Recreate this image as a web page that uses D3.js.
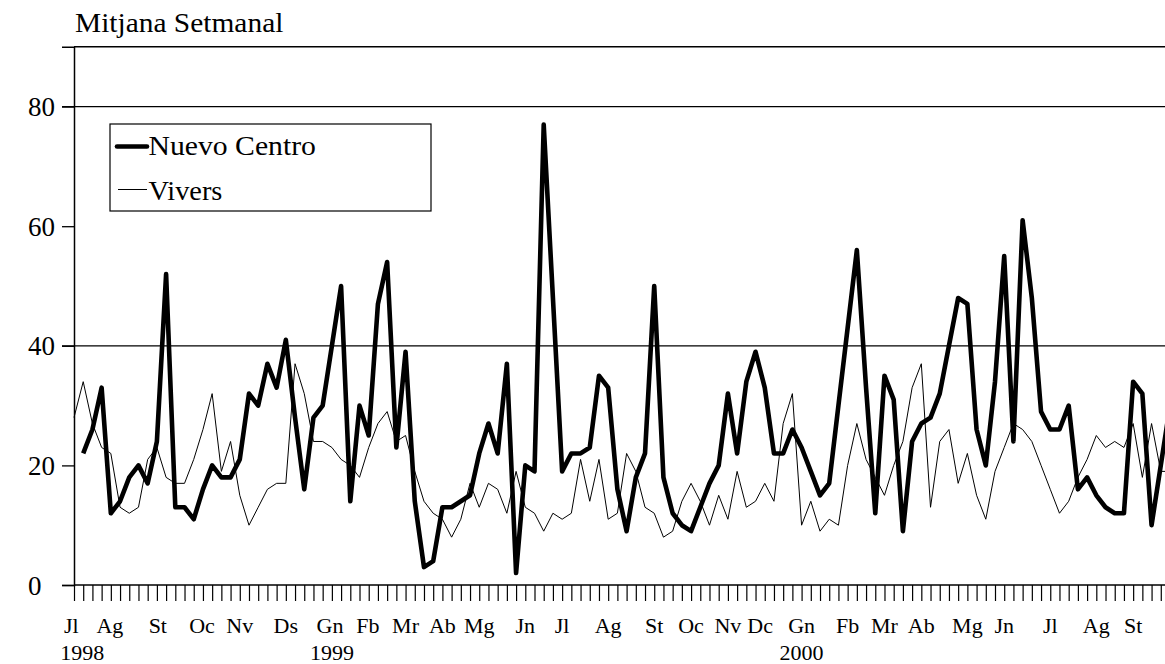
<!DOCTYPE html>
<html>
<head>
<meta charset="utf-8">
<script src="https://cdn.jsdelivr.net/npm/d3@7"></script>
<style>
  html, body { margin: 0; padding: 0; background: #fff; }
  svg text { font-family: "Liberation Serif", "Times New Roman", serif !important; fill: #000; }
</style>
</head>
<body>
<svg id="chart" width="1165" height="664" font-family="Liberation Serif"></svg>
<script>
// ---- data (weekly means, Jul 1998 – Sep 2000) ----
const nuevoCentro = [null,22,26,33,12,14,18,20,17,24,52,13,13,11,16,20,18,18,21,32,
  30,37,33,41,28,16,28,30,40,50,14,30,25,47,54,23,39,14,3,4,
  13,13,14,15,22,27,22,37,2,20,19,77,48,19,22,22,23,35,33,16,
  9,18,22,50,18,12,10,9,13,17,20,32,22,34,39,33,22,22,26,23,
  19,15,17,30,43,56,33,12,35,31,9,24,27,28,32,40,48,47,26,20,
  34,55,24,61,48,29,26,26,30,16,18,15,13,12,12,34,32,10,20,30];
const vivers = [28,34,27,23,22,13,12,13,21,23,18,17,17,21,26,32,19,24,15,10,
  13,16,17,17,37,32,24,24,23,21,20,18,23,27,29,24,25,19,14,12,
  11,8,11,17,13,17,16,12,19,13,12,9,12,11,12,21,14,21,11,12,
  22,19,13,12,8,9,14,17,14,10,15,11,19,13,14,17,14,27,32,10,
  14,9,11,10,20,27,21,18,15,20,24,33,37,13,24,26,17,22,15,11,
  19,23,27,26,24,20,16,12,14,18,21,25,23,24,23,27,18,27,19,19];
const monthLabels = ["Jl","Ag","St","Oc","Nv","Ds","Gn","Fb","Mr","Ab","Mg","Jn","Jl","Ag",
  "St","Oc","Nv","Dc","Gn","Fb","Mr","Ab","Mg","Jn","Jl","Ag","St"];
const monthPos = [-0.3,3.9,9.1,13.9,18,23,27.8,31.9,36,40,44,49,53,58,
  63,67,71,74.5,79,84,88,92,97,101,106,111,115];
const yearLabels = ["1998","1999","2000"];
const yearPos = [0.9,28,79];
const yTicks = [0,20,40,60,80];
const gridValues = [40,80];
const seriesNames = ["Nuevo Centro","Vivers"];
const title = "Mitjana Setmanal";

// ---- layout ----
const FONT = "Liberation Serif";
const svg = d3.select("#chart");
const left = 74, step = 9.21, nWeeks = 119;
const x = d3.scaleLinear().domain([0, nWeeks]).range([left, left + nWeeks * step]);
const y = d3.scaleLinear().domain([0, 90]).range([585, 46.8]);

// stretched text helper (reference glyphs are slightly wider than Liberation Serif)
function wideText(g, tx, ty, size, str, sx) {
  return g.append("text")
    .attr("transform", `translate(${tx},${ty}) scale(${sx},1)`)
    .attr("font-family", FONT).attr("font-size", size).text(str);
}

// title
wideText(svg, 75, 32, 27, title, 1.09);

// gridlines (extend left as ticks)
svg.selectAll("line.grid").data(gridValues).enter().append("line")
  .attr("x1", 62).attr("x2", 1165)
  .attr("y1", d => y(d)).attr("y2", d => y(d))
  .attr("stroke", "#000").attr("stroke-width", 1.3);

// frame top
svg.append("line").attr("x1", left).attr("x2", 1165).attr("y1", y(90)).attr("y2", y(90))
  .attr("stroke", "#000").attr("stroke-width", 1.5);

// y axis
const yAxis = d3.axisLeft(y).tickValues(yTicks).tickSize(12).tickFormat(d3.format("d"));
const gy = svg.append("g").attr("transform", `translate(${left},0)`).call(yAxis)
  .attr("font-family", FONT);
gy.select(".domain").attr("stroke", "#000").attr("stroke-width", 1.5);
gy.selectAll(".tick line").attr("stroke", "#000").attr("stroke-width", 1.3);
gy.selectAll(".tick text").attr("x", 28 - left).attr("text-anchor", "start")
  .attr("font-family", FONT).attr("font-size", 27).attr("dy", "0.34em").attr("fill", "#000");

// x axis (weekly ticks)
const weeks = d3.range(0, nWeeks + 1);
const xAxis = d3.axisBottom(x).tickValues(weeks).tickSize(16).tickFormat("");
const gx = svg.append("g").attr("transform", `translate(0,${y(0)})`).call(xAxis);
gx.select(".domain").attr("stroke", "#000").attr("stroke-width", 1.5).attr("d", `M${left},0H1165`);
gx.selectAll(".tick line").attr("stroke", "#000").attr("stroke-width", 1.2);

// month labels
svg.selectAll("text.month").data(monthLabels).enter().append("text")
  .attr("class", "month").attr("font-family", FONT)
  .attr("x", (d, i) => x(monthPos[i])).attr("y", 633)
  .attr("text-anchor", "middle").attr("font-size", 22).text(d => d);
svg.selectAll("text.year").data(yearLabels).enter().append("text")
  .attr("class", "year").attr("font-family", FONT)
  .attr("x", (d, i) => x(yearPos[i])).attr("y", 660)
  .attr("text-anchor", "middle").attr("font-size", 22).text(d => d);

// series
const line = d3.line().defined(d => d != null).x((d, i) => x(i)).y(d => y(d));
const plot = svg.append("g");
plot.append("path").datum(vivers).attr("d", line)
  .attr("fill", "none").attr("stroke", "#000").attr("stroke-width", 1);
plot.append("path").datum(nuevoCentro).attr("d", line)
  .attr("fill", "none").attr("stroke", "#000").attr("stroke-width", 4.6)
  .attr("stroke-linejoin", "round");

// legend
const lg = svg.append("g");
lg.append("rect").attr("x", 110).attr("y", 124).attr("width", 321).attr("height", 87)
  .attr("fill", "#fff").attr("stroke", "#000").attr("stroke-width", 1.2);
lg.append("line").attr("x1", 117).attr("x2", 147).attr("y1", 146.5).attr("y2", 146.5)
  .attr("stroke", "#000").attr("stroke-width", 4.6).attr("stroke-linecap", "round");
lg.append("line").attr("x1", 118).attr("x2", 147).attr("y1", 189.5).attr("y2", 189.5)
  .attr("stroke", "#000").attr("stroke-width", 1);
wideText(lg, 148.5, 155, 27, seriesNames[0], 1.1);
wideText(lg, 148.5, 200, 27, seriesNames[1], 1.05);
</script>
</body>
</html>
